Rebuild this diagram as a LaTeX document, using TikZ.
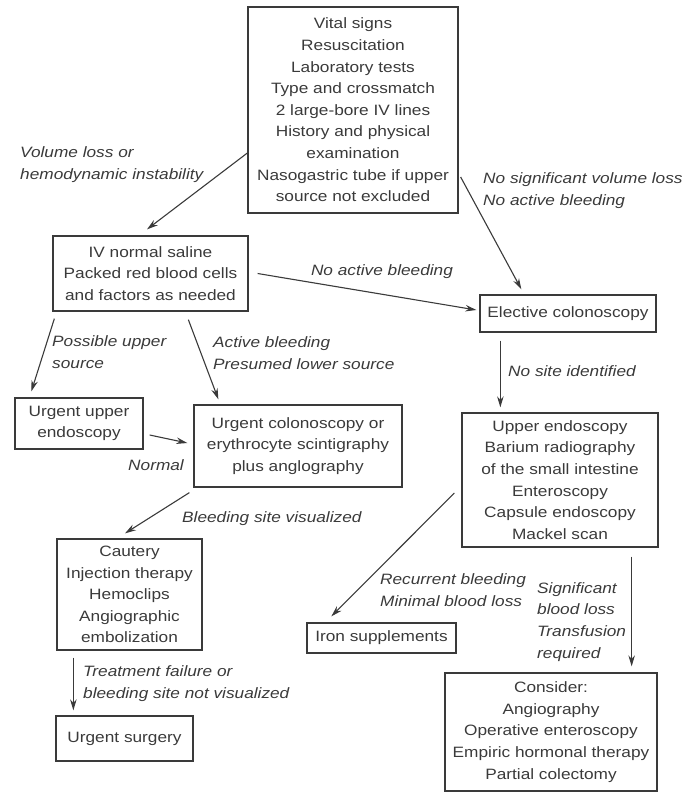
\documentclass[tikz,border=0pt]{standalone}
\usepackage{fontspec}
\setmainfont{Liberation Sans}[FakeStretch=1.15]
\usetikzlibrary{arrows.meta,calc}
\definecolor{ink}{HTML}{3A3A3A}
\begin{document}
\begin{tikzpicture}[x=1pt,y=-1pt,
  every node/.style={font=\fontsize{15}{21.6}\selectfont, text=ink},
  box/.style={draw=ink, line width=1.3pt, align=center, inner sep=0pt, rectangle},
  lbl/.style={font=\fontsize{15}{21.8}\selectfont\itshape, align=left, inner sep=0pt},
  arr/.style={draw=ink, line width=1.1pt, -{Stealth[length=11pt,width=6.5pt]}}]
\useasboundingbox (0,0) rectangle (694,793);

% boxes
\node[box, minimum width=210, minimum height=206] (top) at (353,110)
  {Vital signs\\Resuscitation\\Laboratory tests\\Type and crossmatch\\2 large-bore IV lines\\History and physical\\examination\\Nasogastric tube if upper\\source not excluded};
\node[box, minimum width=195, minimum height=75] (iv) at (150.5,273.5)
  {IV normal saline\\Packed red blood cells\\and factors as needed};
\node[box, minimum width=128, minimum height=51] (upper) at (79,423.5)
  {Urgent upper\\endoscopy};
\node[box, minimum width=208, minimum height=82] (colon) at (298,446)
  {Urgent colonoscopy or\\erythrocyte scintigraphy\\plus anglography};
\node[box, minimum width=176, minimum height=37] (elective) at (568,313.5)
  {Elective colonoscopy};
\node[box, minimum width=196, minimum height=134] (upendo) at (560,480)
  {Upper endoscopy\\Barium radiography\\of the small intestine\\Enteroscopy\\Capsule endoscopy\\Mackel scan};
\node[box, minimum width=145, minimum height=111] (cautery) at (129.5,594.5)
  {Cautery\\Injection therapy\\Hemoclips\\Angiographic\\embolization};
\node[box, minimum width=137, minimum height=45] (surgery) at (124.5,738.5)
  {Urgent surgery};
\node[box, minimum width=149, minimum height=30] (iron) at (381.5,638)
  {Iron supplements};
\node[box, minimum width=212, minimum height=118] (consider) at (551,732)
  {Consider:\\Angiography\\Operative enteroscopy\\Empiric hormonal therapy\\Partial colectomy};

% connectors
\draw[arr] ($(top.west)+(0,43)$) -- ($(iv.north)+(-3.5,-6)$);
\draw[arr] ($(top.east)+(2,67)$) -- ($(elective.north west)+(42,-5)$);
\draw[arr] ($(iv.east)+(9,0)$) -- ($(elective.west)+(-3,-3.5)$);
\draw[arr] ($(iv.south west)+(2,7)$) -- ($(upper.north west)+(17,-6)$);
\draw[arr] ($(iv.south west)+(136,8)$) -- ($(colon.north west)+(25,-5)$);
\draw[arr] ($(upper.east)+(6,11.5)$) -- ($(colon.west)+(-6,-3)$);
\draw[arr] ($(colon.south west)+(-4,5)$) -- ($(cautery.north)+(-4.5,-5)$);
\draw[arr] ($(cautery.south west)+(17,7)$) -- ($(surgery.north west)+(18,-5)$);
\draw[arr] ($(elective.south west)+(21,8)$) -- ($(upendo.north west)+(39,-5)$);
\draw[arr] ($(upendo.west)+(-7,13)$) -- ($(iron.north west)+(25,-6)$);
\draw[arr] ($(upendo.south east)+(-27,9)$) -- ($(consider.north east)+(-26,-6)$);

% connector labels
\node[lbl, anchor=west] (l1) at (20,164.5) {Volume loss or\\hemodynamic instability};
\node[lbl, anchor=west] (l2) at (483,191) {No significant volume loss\\No active bleeding};
\node[lbl] (l3) at (382,272) {No active bleeding};
\node[lbl, anchor=west] (l4) at (52,352.5) {Possible upper\\source};
\node[lbl, anchor=west] (l5) at (213,353) {Active bleeding\\Presumed lower source};
\node[lbl, anchor=east] (l6) at (184,465) {Normal};
\node[lbl, anchor=west] (l7) at (182,519) {Bleeding site visualized};
\node[lbl, anchor=west] (l8) at (83,683.5) {Treatment failure or\\bleeding site not visualized};
\node[lbl, anchor=west] (l9) at (508,371) {No site identified};
\node[lbl, anchor=west] (l10) at (380,590.5) {Recurrent bleeding\\Minimal blood loss};
\node[lbl, anchor=west] (l11) at (537,622) {Significant\\blood loss\\Transfusion\\required};
\end{tikzpicture}
\end{document}
